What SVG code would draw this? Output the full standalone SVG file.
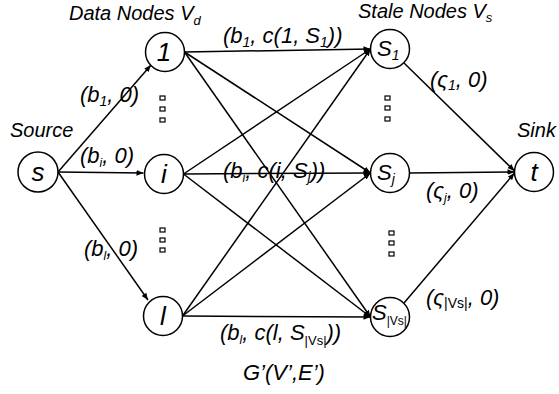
<svg xmlns="http://www.w3.org/2000/svg" width="559" height="394" viewBox="0 0 559 394">
<style>
text{font-family:"Liberation Sans",Arial,sans-serif;font-style:italic;fill:#000}
.hdr{font-size:20px}
.lbl{font-size:22px}
.nl{font-size:26px}
.sl{font-size:22px}
.node circle{fill:#fff;stroke:#000;stroke-width:1.5}
.edges line{stroke:#000;stroke-width:1.5}
.dots rect{fill:none;stroke:#000;stroke-width:1.2}
</style>
<defs>
<marker id="arr" viewBox="0 0 10 10" refX="10" refY="5" markerWidth="7" markerHeight="7" markerUnits="userSpaceOnUse" orient="auto">
<path d="M0,1 L10,5 L0,9 z" fill="#000"/>
</marker>
</defs>
<g class="edges">
<line x1="58" y1="172" x2="151" y2="65" marker-end="url(#arr)"/>
<line x1="58" y1="172" x2="143.5" y2="173" marker-end="url(#arr)"/>
<line x1="58" y1="172" x2="148" y2="300" marker-end="url(#arr)"/>
<line x1="184.5" y1="52" x2="370.5" y2="49" marker-end="url(#arr)"/>
<line x1="184.5" y1="52" x2="370.5" y2="173" marker-end="url(#arr)"/>
<line x1="184.5" y1="52" x2="370.5" y2="317" marker-end="url(#arr)"/>
<line x1="183.5" y1="174" x2="370.5" y2="49" marker-end="url(#arr)"/>
<line x1="183.5" y1="174" x2="370.5" y2="173" marker-end="url(#arr)"/>
<line x1="183.5" y1="174" x2="370.5" y2="317" marker-end="url(#arr)"/>
<line x1="182.5" y1="316" x2="370.5" y2="49" marker-end="url(#arr)"/>
<line x1="182.5" y1="316" x2="370.5" y2="173" marker-end="url(#arr)"/>
<line x1="182.5" y1="316" x2="370.5" y2="317" marker-end="url(#arr)"/>
<line x1="404" y1="63" x2="514.5" y2="171" marker-end="url(#arr)"/>
<line x1="409.5" y1="173" x2="514.5" y2="172" marker-end="url(#arr)"/>
<line x1="404" y1="303" x2="514.5" y2="173" marker-end="url(#arr)"/>
</g>
<g id="node-s" class="node"><circle cx="38" cy="172" r="20"/><text class="nl" x="38" y="181" text-anchor="middle">s</text></g>
<g id="node-1" class="node"><circle cx="165" cy="52" r="19.5"/><text class="nl" x="164" y="61" text-anchor="middle">1</text></g>
<g id="node-i" class="node"><circle cx="164" cy="174" r="19.5"/><text class="nl" x="164" y="183" text-anchor="middle">i</text></g>
<g id="node-l" class="node"><circle cx="163" cy="316" r="19.5"/><text class="nl" x="163" y="325" text-anchor="middle">l</text></g>
<g id="node-S1" class="node"><circle cx="390" cy="49" r="19.5"/><text class="sl" x="377" y="56">S<tspan font-size="14" dy="4">1</tspan></text></g>
<g id="node-Sj" class="node"><circle cx="390" cy="173" r="19.5"/><text class="sl" x="377" y="180">S<tspan font-size="14" dy="4">j</tspan></text></g>
<g id="node-SVs" class="node"><circle cx="390" cy="317" r="19.5"/><text class="sl" x="372" y="320">S<tspan font-size="12" dy="5" font-style="normal">|Vs|</tspan></text></g>
<g id="node-t" class="node"><circle cx="534" cy="172" r="19.5"/><text class="nl" x="534" y="181" text-anchor="middle">t</text></g>
<g class="dots">
<rect x="160" y="96" width="5" height="4"/><rect x="160" y="107" width="5" height="4"/><rect x="160" y="118" width="5" height="4"/>
<rect x="160" y="228" width="5" height="4"/><rect x="160" y="238" width="5" height="4"/><rect x="160" y="248" width="5" height="4"/>
<rect x="385" y="96" width="5" height="4"/><rect x="385" y="106" width="5" height="4"/><rect x="385" y="117" width="5" height="4"/>
<rect x="389" y="231" width="5" height="4"/><rect x="389" y="241" width="5" height="4"/><rect x="389" y="252" width="5" height="4"/>
</g>
<g class="labels">
<text class="hdr" x="69" y="20">Data Nodes V<tspan font-size="13" dy="5">d</tspan></text>
<text class="hdr" x="358" y="18">Stale Nodes V<tspan font-size="13" dy="4">s</tspan></text>
<text class="hdr" x="10" y="137" font-size="21">Source</text>
<text class="hdr" x="517" y="137" font-size="21">Sink</text>
<text class="lbl" x="80" y="102">(b<tspan font-size="14" dy="4">1</tspan><tspan dy="-4">, 0)</tspan></text>
<text class="lbl" x="80" y="163">(b<tspan font-size="12" dy="4">i</tspan><tspan dy="-4">, 0)</tspan></text>
<text class="lbl" x="84" y="256">(b<tspan font-size="12" dy="4">l</tspan><tspan dy="-4">, 0)</tspan></text>
<text class="lbl" x="223" y="43">(b<tspan font-size="14" dy="4">1</tspan><tspan dy="-4">, c(1, S</tspan><tspan font-size="14" dy="4">1</tspan><tspan dy="-4">))</tspan></text>
<text class="lbl" x="223" y="178">(b<tspan font-size="12" dy="4">i</tspan><tspan dy="-4">, c(i, S</tspan><tspan font-size="14" dy="4">j</tspan><tspan dy="-4">))</tspan></text>
<text class="lbl" x="220" y="340">(b<tspan font-size="12" dy="4">l</tspan><tspan dy="-4">, c(l, S</tspan><tspan font-size="13" dy="5" font-style="normal">|Vs|</tspan><tspan dy="-5">))</tspan></text>
<text class="lbl" x="243" y="380">G’(V’,E’)</text>
<text class="lbl" x="430" y="87">(ς<tspan font-size="14" dy="3">1</tspan><tspan dy="-3">, 0)</tspan></text>
<text class="lbl" x="426" y="198">(ς<tspan font-size="12" dy="4">j</tspan><tspan dy="-4">, 0)</tspan></text>
<text class="lbl" x="426" y="305">(ς<tspan font-size="14" dy="3" font-style="normal">|Vs|</tspan><tspan dy="-3">, 0)</tspan></text>
</g>
</svg>
